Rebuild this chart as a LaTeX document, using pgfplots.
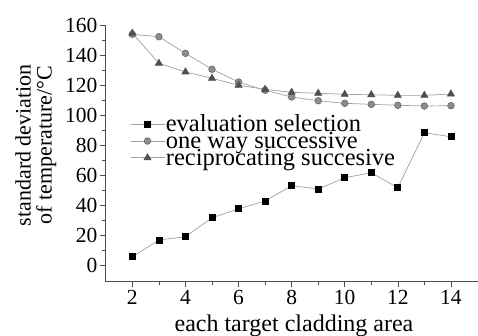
\documentclass[border=0pt]{standalone}
\usepackage{fontspec}
\setmainfont{Liberation Serif}
\usepackage{pgfplots}
\pgfplotsset{compat=1.18}
\definecolor{linegray}{HTML}{A0A0A0}
\definecolor{circfill}{HTML}{8C8C8C}
\definecolor{circdraw}{HTML}{6E6E6E}
\definecolor{trifill}{HTML}{505050}
\begin{document}
\begin{tikzpicture}
\useasboundingbox (-105pt,-54.3pt) rectangle (373pt,281.7pt);
\begin{axis}[
  at={(0pt,0pt)}, anchor=south west,
  scale only axis,
  width=373pt, height=256.7pt,
  xmin=0.97, xmax=15.02,
  ymin=-11.1, ymax=160,
  axis lines=left,
  axis line style={-, draw=black!70, line width=0.6pt},
  xtick={2,4,...,14},
  ytick={0,20,...,160},
  minor x tick num=1,
  minor y tick num=1,
  tick align=outside,
  major tick length=5pt,
  minor tick length=3pt,
  tick style={black!70, line width=0.6pt},
  /pgf/number format/assume math mode=true,
  tick label style={font=\fontsize{21.5}{22}\selectfont},
  xticklabel style={yshift=0pt},
  yticklabel style={xshift=1pt},
  xlabel={each target cladding area},
  ylabel={standard deviation\\of temperature/°C},
  xlabel style={font=\fontsize{24}{24}\selectfont, at={(axis description cs:0.5,0)}, anchor=base, yshift=-50pt, xshift=2.5pt},
  ylabel style={font=\fontsize{22}{21}\selectfont, align=center, at={(ticklabel cs:0.532)}, yshift=2pt},
  legend style={draw=none, fill=none, at={(axis cs:1.91,101)}, anchor=north west,
    font=\fontsize{24.5}{24}\selectfont, row sep=-3pt, inner sep=0pt,
    nodes={inner sep=1pt}},
  legend cell align=left,
  legend image code/.code={\draw[mark repeat=2,mark phase=2] plot coordinates {(0pt,0pt) (17pt,0pt) (34pt,0pt)};},
]
\addplot[color=linegray, line width=0.7pt, mark=square*, mark size=3pt,
  mark options={fill=black, draw=black, solid}] coordinates {
(2,5.5) (3,16.7) (4,18.9) (5,31.5) (6,37.5) (7,42.7) (8,52.9) (9,50.7)
(10,58.2) (11,61.5) (12,51.5) (13,88.2) (14,85.5)};
\addlegendentry{evaluation selection}
\addplot[color=linegray, line width=0.7pt, mark=*, mark size=3.3pt,
  mark options={fill=circfill, draw=circdraw, solid}] coordinates {
(2,153.8) (3,152.2) (4,141.1) (5,130.5) (6,122) (7,116.5) (8,112) (9,109.5)
(10,107.8) (11,107.1) (12,106.5) (13,106) (14,106.2)};
\addlegendentry{one way successive}
\addplot[color=linegray, line width=0.7pt, mark=triangle*, mark size=4pt,
  mark options={fill=trifill, draw=trifill, solid}] coordinates {
(2,154.5) (3,134.5) (4,128.7) (5,124.5) (6,119.8) (7,117.1) (8,115.1) (9,114.5)
(10,113.8) (11,113.5) (12,113.1) (13,113.1) (14,114)};
\addlegendentry{reciprocating succesive}
\end{axis}
\end{tikzpicture}
\end{document}
